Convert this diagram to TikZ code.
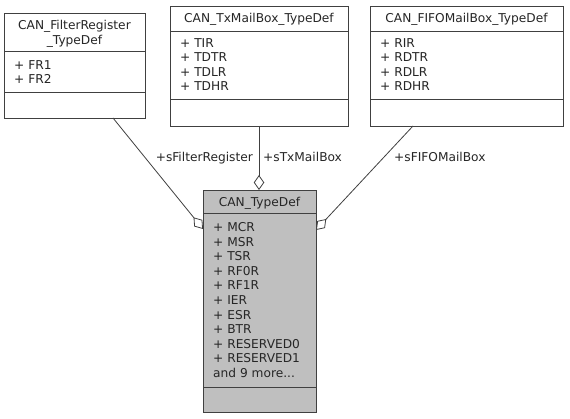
\documentclass[tikz,border=0pt]{standalone}
\usepackage{fontspec}
\setmainfont{DejaVu Sans}
\usetikzlibrary{arrows.meta}
\definecolor{edge}{HTML}{404040}
\definecolor{mainfill}{HTML}{BFBFBF}
\begin{document}
\begin{tikzpicture}[x=1pt,y=-1pt,
  font=\fontsize{12.2}{14.6}\selectfont,
  box/.style={draw=edge, line width=1pt, rectangle, inner sep=0pt, anchor=north west},
  divider/.style={draw=edge, line width=1pt},
  txt/.style={anchor=base west, inner sep=0pt, text=black!85},
  ttl/.style={anchor=base, inner sep=0pt, text=black!85},
  lbl/.style={inner sep=0pt, text=black!85},
  conn/.style={draw=edge, line width=0.8pt, -{Diamond[open, length=15pt, width=10.5pt, line width=0.8pt]}}]
\useasboundingbox (0,0) rectangle (570,419);
\fill[white] (0,0) rectangle (570,419);

% CAN_FilterRegister_TypeDef
\node[box, minimum width=141pt, minimum height=105pt, fill=white] (b1) at (4,13) {};
\draw[divider] (4,52) -- (145,52);
\draw[divider] (4,93) -- (145,93);
\node[ttl] (b1t1) at (74.5,29.5) {CAN\_FilterRegister};
\node[ttl] (b1t2) at (74.5,44.5) {\_TypeDef};
\node[txt] (b1a1) at (14,69.5) {+ FR1};
\node[txt] (b1a2) at (14,84) {+ FR2};

% CAN_TxMailBox_TypeDef
\node[box, minimum width=178pt, minimum height=120pt, fill=white] (b2) at (170,6) {};
\draw[divider] (170,32) -- (348,32);
\draw[divider] (170,100) -- (348,100);
\node[ttl] (b2t) at (259,22.5) {CAN\_TxMailBox\_TypeDef};
\node[txt] (b2a1) at (180,47.5) {+ TIR};
\node[txt] (b2a2) at (180,62) {+ TDTR};
\node[txt] (b2a3) at (180,76.5) {+ TDLR};
\node[txt] (b2a4) at (180,91) {+ TDHR};

% CAN_FIFOMailBox_TypeDef
\node[box, minimum width=193pt, minimum height=120pt, fill=white] (b3) at (370,6) {};
\draw[divider] (370,32) -- (563,32);
\draw[divider] (370,100) -- (563,100);
\node[ttl] (b3t) at (466.5,22.5) {CAN\_FIFOMailBox\_TypeDef};
\node[txt] (b3a1) at (380,47.5) {+ RIR};
\node[txt] (b3a2) at (380,62) {+ RDTR};
\node[txt] (b3a3) at (380,76.5) {+ RDLR};
\node[txt] (b3a4) at (380,91) {+ RDHR};

% CAN_TypeDef
\node[box, minimum width=113pt, minimum height=222pt, fill=mainfill] (m) at (203,190) {};
\draw[divider] (203,214) -- (316,214);
\draw[divider] (203,387) -- (316,387);
\node[ttl] (mt) at (259.5,206.5) {CAN\_TypeDef};
\foreach \t [count=\i from 0] in {+ MCR,+ MSR,+ TSR,+ RF0R,+ RF1R,+ IER,+ ESR,+ BTR,+ RESERVED0,+ RESERVED1}{
  \node[txt] (ma\i) at (213,231.5+14.6*\i) {\t};
}
\node[txt] (ma10) at (213,231.5+146) {and 9 more...};

% connectors
\coordinate (s1) at (113,118);
\coordinate (e1) at (203,229);
\coordinate (s2) at (259,126);
\coordinate (e2) at (259,190);
\coordinate (s3) at (413,126);
\coordinate (e3) at (316,230);
\draw[conn] (s1) -- (e1);
\draw[conn] (s2) -- (e2);
\draw[conn] (s3) -- (e3);

\node[lbl, anchor=base east] (l1) at (253,161.5) {+sFilterRegister};
\node[lbl, anchor=base west] (l2) at (263,161.5) {+sTxMailBox};
\node[lbl, anchor=base west] (l3) at (394,161.5) {+sFIFOMailBox};
\end{tikzpicture}
\end{document}
